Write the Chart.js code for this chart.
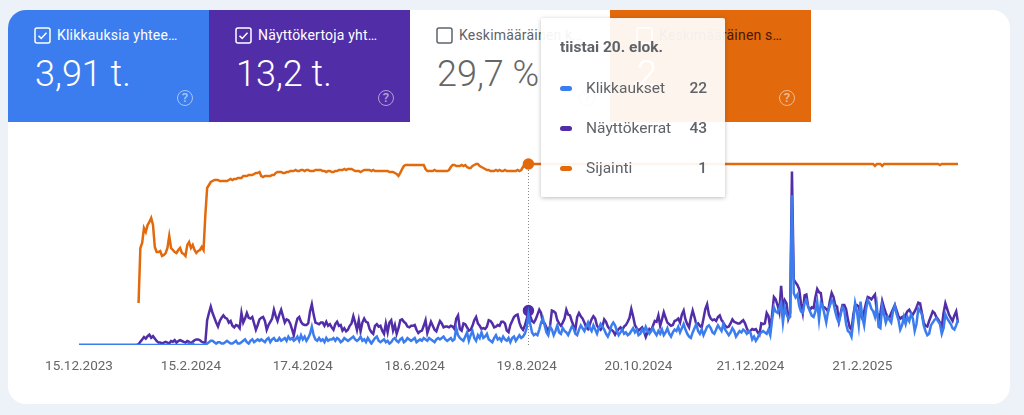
<!DOCTYPE html>
<html lang="fi">
<head>
<meta charset="utf-8">
<title>Search Console</title>
<script src="https://cdn.jsdelivr.net/npm/chart.js@4"></script>
<style>
html,body{margin:0;padding:0;width:1024px;height:415px;overflow:hidden;background:#edf2f9;font-family:Roboto,sans-serif}
#panel{position:absolute;left:8px;top:10px;width:1002px;height:394px;background:#fff;border-radius:18px}
.card{position:absolute;top:10px;width:201px;height:112px;color:#fff;overflow:hidden}
.card .lab{position:absolute;left:49px;top:17px;font-size:14px;line-height:17px;white-space:nowrap;letter-spacing:.2px}
.card .val{position:absolute;left:27px;top:43px;font-size:36px;line-height:42px;white-space:nowrap;font-weight:300}
.card svg.box{position:absolute;left:26px;top:17px;width:17px;height:17px}
.card .q{position:absolute;left:169px;top:80px;width:14px;height:14px;border:1.5px solid currentColor;border-radius:50%;font-size:13px;line-height:14px;text-align:center;opacity:.55;font-weight:500}
#canvasWrap{position:absolute;left:0;top:0;width:1024px;height:415px}
#tip{position:absolute;left:541px;top:18px;width:184px;height:179px;background:rgba(255,255,255,.93);box-shadow:0 1px 4px rgba(60,64,67,.35);color:#5f6368;border-radius:2px}
#tip .d{position:absolute;left:19px;top:21px;font-size:15.5px;font-weight:700;line-height:17px;white-space:nowrap}
#tip .r{position:absolute;left:0;width:184px;height:20px;font-size:15.5px;line-height:20px}
#tip .s{position:absolute;left:19px;top:8px;width:12px;height:5px;border-radius:2.5px}
#tip .n{position:absolute;left:45px}
#tip .v{position:absolute;right:18px;font-weight:500}
</style>
</head>
<body>
<div id="panel"></div>
<div id="cards"></div>
<div id="canvasWrap"><canvas id="c" width="1024" height="415"></canvas></div>
<div id="tip"></div>
<script>
const tickLabels = ["15.12.2023","15.2.2024","17.4.2024","18.6.2024","19.8.2024","20.10.2024","21.12.2024","21.2.2025"];
const seriesNames = ["Klikkaukset","Näyttökerrat","Sijainti"];
const hoverTitle = "tiistai 20. elok.";
const hoverValues = [22,43,1];
const hoverIndex = 249;
const cardLabels = ["Klikkauksia yhtee…","Näyttökertoja yht…","Keskimääräinen k…","Keskimääräinen s…"];
const cardValues = ["3,91 t.","13,2 t.","29,7 %","2"];

const clicks = [
0,0,0,0,0,0,0,0,0,0, 0,0,0,0,0,0,0,0,0,0, 0,0,0,0,0,0,0,0,0,0,
0,0,0,0,0,0,0,0,0,0, 0,0,0,0,0,0,0,0,0,0, 0,0,0,0,0,0,0,0,0,0,
0,1,0,1,0,0,0,0,0,0,
0,1,2,3,3,2,1,2,2,1,
1,2,3,2,1,1,2,3,1,1,
2,3,4,2,1,3,4,2,3,4,
3,4,3,2,4,5,2,4,5,3,
3,5,3,4,5,3,6,4,5,3,
4,6,3,7,4,6,3,5,8,13,
7,4,3,5,3,4,2,5,3,4,
4,5,3,5,4,2,3,5,4,3,
4,5,6,4,3,4,6,3,4,2,
5,3,1,3,5,6,3,2,3,4,
2,3,1,2,4,5,3,2,4,5,
2,3,5,4,3,4,5,2,3,4,
3,5,4,3,5,4,3,2,4,5,
4,5,6,4,3,4,5,3,4,12,
7,5,4,3,6,9,3,7,10,5,
3,7,5,9,5,6,8,4,3,2,
5,7,4,5,3,6,4,3,5,2,
5,6,3,5,7,5,6,8,12,22,
15,9,7,8,7,11,16,19,14,9,
7,13,11,7,10,14,9,8,12,10,
9,7,10,13,12,8,7,11,14,12,
10,13,16,12,10,14,11,8,12,15,
13,11,8,6,9,14,16,14,10,7,
9,11,8,9,7,8,10,12,9,11,
7,8,11,9,13,10,8,10,12,9,
7,10,8,11,7,9,12,8,6,9,
11,10,13,9,12,15,11,8,6,5,
9,12,15,10,8,11,7,10,13,14,
12,9,8,11,14,12,10,15,11,9,
7,9,12,10,6,8,10,9,11,10,
8,10,9,4,6,3,5,8,9,10,
9,8,11,7,18,27,24,23,26,30,
16,27,22,19,20,107,37,34,36,28,
24,23,30,32,27,24,21,20,24,31,
18,30,28,22,16,24,28,32,30,24,
19,16,22,27,25,15,10,9,6,17,
30,24,14,31,20,14,25,32,30,26,
24,20,28,13,12,28,22,16,20,18,
16,24,28,22,18,11,14,20,15,20,
17,22,19,10,15,26,24,22,14,10,
7,8,14,16,18,19,17,15,8,12,
22,19,17,15,12,11,14,18
];

const impressions = [
0,0,0,0,0,0,0,0,0,0, 0,0,0,0,0,0,0,0,0,0, 0,0,0,0,0,0,0,0,0,0,
0,0,0,1,4,7,10,8,11,13,
9,11,8,5,3,3,2,3,4,3,
2,5,4,6,3,5,6,5,4,3,
5,4,2,4,6,7,7,6,4,3,
3,31,40,48,40,34,28,23,30,34,
37,34,33,28,30,24,22,25,24,21,
40,28,33,40,34,33,35,27,19,25,
32,34,35,30,19,25,29,33,44,36,
30,38,44,36,28,32,31,27,20,12,
24,33,35,29,26,25,25,27,42,51,
38,28,27,26,28,28,24,29,24,26,
22,19,26,29,24,25,18,21,17,19,
24,27,36,28,19,31,17,28,33,29,
28,20,16,14,24,26,23,24,18,14,
27,16,28,31,18,25,14,21,31,32,
29,27,23,22,24,24,25,19,15,17,
18,24,31,15,22,29,24,19,17,24,
30,27,22,23,23,22,24,23,20,33,
37,20,18,27,26,22,18,19,24,31,
35,27,24,20,21,20,23,31,30,27,
22,23,25,24,29,29,27,18,16,25,
30,35,37,38,28,22,19,24,32,43,
36,30,28,32,38,44,40,28,27,22,
17,24,43,42,40,31,27,24,28,33,
44,38,37,30,24,19,35,40,36,33,
28,22,20,26,32,36,33,24,21,19,
23,32,29,23,20,19,17,13,17,20,
22,19,23,25,29,34,45,36,25,21,
18,20,22,17,10,16,20,18,24,30,
29,37,24,32,41,34,28,26,24,25,
30,31,33,28,38,43,32,26,22,34,
43,35,26,27,24,22,33,45,51,38,
33,31,32,30,35,37,31,28,24,22,
23,27,32,29,28,27,27,29,31,27,
21,16,18,20,19,20,16,13,27,26,
27,40,36,21,38,60,57,50,41,74,
45,56,52,33,40,217,82,78,75,70,
52,40,62,63,48,44,47,46,60,70,
66,65,48,47,45,42,55,65,60,50,
48,30,40,50,50,45,32,22,19,38,
50,50,48,38,33,42,52,60,59,57,
60,63,42,30,40,55,47,40,35,34,
40,45,50,43,36,33,35,30,38,42,
44,40,38,42,47,53,52,40,28,24,
23,30,36,42,40,35,32,28,22,40,
52,45,38,34,30,37,42,28
];

const position = [
null,null,null,null,null,null,null,null,null,null,
null,null,null,null,null,null,null,null,null,null,
null,null,null,null,null,null,null,null,null,null,
null,null,null,14.9,9.4,8.9,7.4,7.8,7.1,6.8,
6.4,7.1,9.3,9.8,9.8,9.7,10.2,10.1,9.9,9.4,
8.2,9.4,9.6,9.8,9.9,9.6,9.4,9.9,10,10.2,
9.1,8.8,9.4,9.1,9.6,9.9,9.7,9.6,9.3,9.6,
6.1,3.4,3.1,2.8,2.7,2.6,2.6,2.6,2.7,2.7,
2.7,2.7,2.7,2.6,2.5,2.6,2.5,2.5,2.4,2.4,
2.4,2.2,2.2,2.2,2.1,2.1,2.1,2.0,1.9,1.9,
1.8,2.2,2.3,2.2,2.2,2.2,2.2,2.1,2.1,1.9,
1.8,1.8,1.8,1.9,1.9,1.8,1.8,1.7,1.7,1.7,
1.6,1.7,1.7,1.6,1.6,1.7,1.6,1.6,1.7,1.7,
1.7,1.6,1.6,1.6,1.6,1.7,1.7,1.8,1.7,1.7,
1.8,1.8,1.7,1.7,1.6,1.6,1.6,1.5,1.6,1.5,
1.5,1.5,1.6,1.7,1.7,1.7,1.8,1.7,1.6,1.6,
1.6,1.6,1.7,1.6,1.7,1.7,1.7,1.7,1.7,1.7,
1.7,1.7,1.8,1.8,1.8,1.9,2.0,2.2,1.9,1.5,
1.2,1.1,1.1,1.1,1.1,1.1,1.1,1.1,1.1,1.1,
1.1,1.1,1.5,1.7,1.7,1.7,1.7,1.6,1.7,1.7,
1.7,1.7,1.7,1.7,1.7,1.6,1.3,1.1,1.1,1.2,
1.2,1.2,1.1,1.2,1.1,1.3,1.4,1.4,1.2,1.1,
1.0,1.0,1.2,1.3,1.4,1.5,1.6,1.6,1.7,1.7,
1.7,1.6,1.7,1.6,1.7,1.7,1.6,1.7,1.7,1.7,
1.7,1.7,1.7,1.6,1.7,1.6,1.3,1,1,1,
1,1,1,1,1,1,1,1,1,1, 1,1,1,1,1,1,1,1,1,1,
1,1,1,1,1,1,1,1,1,1, 1,1,1,1,1,1,1,1,1,1,
1,1,1,1,1,1,1,1,1,1, 1,1,1,1,1,1,1,1,1,1,
1,1,1,1,1,1,1,1,1,1, 1,1,1,1,1,1,1,1,1,1,
1,1,1,1,1,1,1,1,1,1, 1,1,1,1,1,1,1,1,1,1,
1,1,1,1,1,1,1,1,1,1, 1,1,1,1,1,1,1,1,1,1,
1,1,1,1,1,1,1,1,1,1, 1,1,1,1,1,1,1,1,1,1,
1,1,1,1,1,1,1,1,1,1, 1,1,1,1,1,1,1,1,1,1,
1,1,1,1,1,1,1,1,1,1, 1,1,1,1,1,1,1,1,1,1,
1,1,1,1,1,1,1,1,1,1,
1,1.2,1,1,1,1.2,1,1,1,1,
1,1,1,1,1,1,1,1,1,1,
1,1,1,1,1,1,1,1,1,1,
1,1,1,1,1,1,1,1.1,1,1,
1,1,1,1,1,1,1,1
];

/* daily categories, one per data point */
const firstDay = Date.UTC(2023,11,15);
const days = clicks.map((_, i) => {
  const d = new Date(firstDay + i * 864e5);
  return d.getUTCDate() + "." + (d.getUTCMonth() + 1) + "." + d.getUTCFullYear();
});

const BLUE = "#3b7dee", PURPLE = "#512da8", ORANGE = "#e2690c";

/* cards */
const cardStyle = [
  {left:8,bg:BLUE,fg:"#fff",lab:"#fff",on:true,radius:"18px 0 0 0"},
  {left:209,bg:PURPLE,fg:"#fff",lab:"#fff",on:true},
  {left:410,bg:"#fff",fg:"#666",lab:"#5f6368",on:false},
  {left:610,bg:ORANGE,fg:"#fff",lab:"#4a1800",on:false,boxC:"#fff"}
];
const cardsEl = document.getElementById("cards");
cardStyle.forEach((s, i) => {
  const el = document.createElement("div");
  el.className = "card";
  el.style.cssText = `left:${s.left}px;background:${s.bg};color:${s.fg};border-radius:${s.radius||0}`;
  const stroke = s.boxC || s.lab;
  el.innerHTML = `<svg class="box" viewBox="0 0 17 17"><rect x="1" y="1" width="15" height="15" rx="2" fill="none" stroke="${stroke}" stroke-width="1.5"/>` +
    (s.on ? `<path d="M4.5 8.7l2.7 2.7 5.3-5.6" fill="none" stroke="${stroke}" stroke-width="1.5"/>` : "") + `</svg>` +
    `<div class="lab" style="color:${s.lab}">${cardLabels[i]}</div><div class="val">${cardValues[i]}</div><div class="q">?</div>`;
  cardsEl.appendChild(el);
});

/* hover tooltip */
const tip = document.getElementById("tip");
tip.innerHTML = `<div class="d">${hoverTitle}</div>` + seriesNames.map((n, i) =>
  `<div class="r" style="top:${60 + i * 40}px"><span class="s" style="background:${[BLUE,PURPLE,ORANGE][i]}"></span><span class="n">${n}</span><span class="v">${hoverValues[i]}</span></div>`).join("");

/* dotted hover rule, positioned through the chart's own scales */
const hoverRule = {
  id: "hoverRule",
  beforeDatasetsDraw(chart) {
    const x = chart.scales.x.getPixelForValue(hoverIndex);
    const top = chart.scales.yPos.getPixelForValue(position[hoverIndex]);
    const c = chart.ctx;
    c.save();
    c.strokeStyle = "#80868b";
    c.lineWidth = 1;
    c.setLineDash([1, 2]);
    c.beginPath();
    c.moveTo(Math.round(x) + .5, top);
    c.lineTo(Math.round(x) + .5, chart.chartArea.bottom);
    c.stroke();
    c.restore();
  }
};

const dot = ctx => ctx.dataIndex === hoverIndex ? 4.5 : 0;

new Chart(document.getElementById("c"), {
  type: "line",
  plugins: [hoverRule],
  data: {
    labels: days,
    datasets: [
      {label: seriesNames[0], data: clicks, yAxisID: "yClicks", borderColor: BLUE, backgroundColor: BLUE, borderWidth: 2.5, pointRadius: 0, tension: 0},
      {label: seriesNames[1], data: impressions, yAxisID: "yImp", borderColor: PURPLE, backgroundColor: PURPLE, borderWidth: 2.5, pointRadius: dot, tension: 0},
      {label: seriesNames[2], data: position, yAxisID: "yPos", borderColor: ORANGE, backgroundColor: ORANGE, borderWidth: 2.5, pointRadius: dot, tension: 0}
    ]
  },
  options: {
    responsive: false,
    animation: false,
    events: [],
    layout: {padding: {left: 79, right: 66, top: 150, bottom: 40}},
    plugins: {legend: {display: false}, tooltip: {enabled: false}},
    scales: {
      x: {
        type: "category",
        offset: false,
        afterFit: s => { s.height = 30; },
        grid: {display: false, drawTicks: false},
        border: {display: false},
        ticks: {
          autoSkip: false, maxRotation: 0, minRotation: 0, padding: 14,
          color: "#666", font: {family: "Roboto", size: 13.5},
          callback(v) { const l = this.getLabelForValue(v); return tickLabels.includes(l) ? l : ""; }
        }
      },
      yClicks: {display: false, min: 0, max: 139.3},
      yImp: {display: false, min: 0, max: 243.75},
      yPos: {display: false, reverse: true, min: -0.4, max: 19.1}
    }
  }
});
</script>
</body>
</html>
